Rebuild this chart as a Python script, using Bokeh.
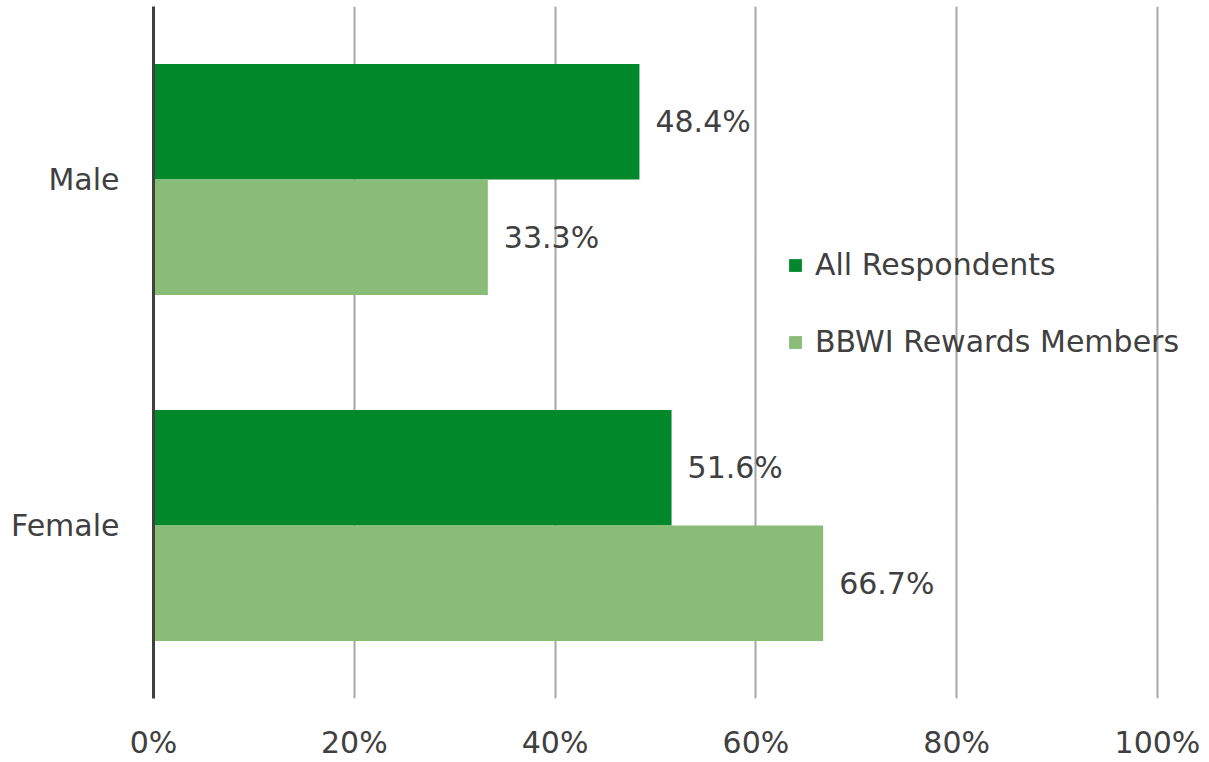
from bokeh.plotting import figure
from bokeh.models import (ColumnDataSource, FactorRange, Range1d, FixedTicker,
                          Legend, LegendItem)
from bokeh.transform import dodge
from bokeh.core.properties import value
from bokeh.embed import file_html
from bokeh.resources import INLINE

# Gender split, percent of group
genders = ["Female", "Male"]
all_respondents = [51.6, 48.4]
rewards_members = [66.7, 33.3]
series_names = ["All Respondents", "BBWI Rewards Members"]
tick_values = [0, 20, 40, 60, 80, 100]
tick_labels = ["0%", "20%", "40%", "60%", "80%", "100%"]

DARK = "#00882b"
LIGHT = "#88bc77"
TEXT = "#404040"
FONT = "DejaVu Sans"
FS = "30px"

src = ColumnDataSource(dict(
    gender=genders,
    all_resp=all_respondents,
    members=rewards_members,
    all_lbl=[f"{v:.1f}%" for v in all_respondents],
    mem_lbl=[f"{v:.1f}%" for v in rewards_members],
))

# the frame runs past 100% so the legend has room on the right
p = figure(width=1209, height=762, output_backend="svg", toolbar_location=None,
           y_range=FactorRange(factors=genders, factor_padding=0, range_padding=0),
           x_range=Range1d(0, 105.18),
           min_border_left=153, min_border_right=0,
           min_border_top=6, min_border_bottom=64)
p.outline_line_color = None
p.background_fill_color = "white"
p.border_fill_color = "white"

bh = 0.334
r1 = p.hbar(y=dodge("gender", 0.167, range=p.y_range), right="all_resp", left=0,
            height=bh, source=src, fill_color=DARK, line_color=None)
r2 = p.hbar(y=dodge("gender", -0.167, range=p.y_range), right="members", left=0,
            height=bh, source=src, fill_color=LIGHT, line_color=None)

p.text(x="all_resp", y=dodge("gender", 0.167, range=p.y_range), text="all_lbl",
       source=src, x_offset=16, text_baseline="middle", text_align="left",
       text_font=value(FONT), text_font_size=FS, text_color=TEXT)
p.text(x="members", y=dodge("gender", -0.167, range=p.y_range), text="mem_lbl",
       source=src, x_offset=16, text_baseline="middle", text_align="left",
       text_font=value(FONT), text_font_size=FS, text_color=TEXT)

# x axis: ticks as percent labels, no axis line
xa = p.xaxis[0]
xa.ticker = FixedTicker(ticks=tick_values)
xa.major_label_overrides = {v: s for v, s in zip(tick_values, tick_labels)}
xa.axis_line_color = None
xa.major_tick_line_color = None
xa.minor_tick_line_color = None
xa.major_label_standoff = 20
xa.major_label_text_font = FONT
xa.major_label_text_font_size = FS
xa.major_label_text_color = TEXT

ya = p.yaxis[0]
ya.axis_line_color = "#404040"
ya.axis_line_width = 3
ya.major_tick_line_color = None
ya.minor_tick_line_color = None
ya.major_label_standoff = 28
ya.major_label_text_font = FONT
ya.major_label_text_font_size = FS
ya.major_label_text_color = TEXT

p.xgrid.grid_line_color = "#a6a6a6"
p.xgrid.grid_line_width = 2
p.ygrid.grid_line_color = None

legend = Legend(items=[LegendItem(label=series_names[0], renderers=[r1]),
                       LegendItem(label=series_names[1], renderers=[r2])],
                location=(634, 339), orientation="vertical",
                glyph_width=16, glyph_height=16, label_standoff=12,
                spacing=42, padding=0, margin=0,
                label_text_font=FONT, label_text_font_size=FS,
                label_text_color=TEXT,
                background_fill_alpha=0, border_line_alpha=0)
p.add_layout(legend, "center")

open("out.html", "w").write(file_html(p, INLINE))
